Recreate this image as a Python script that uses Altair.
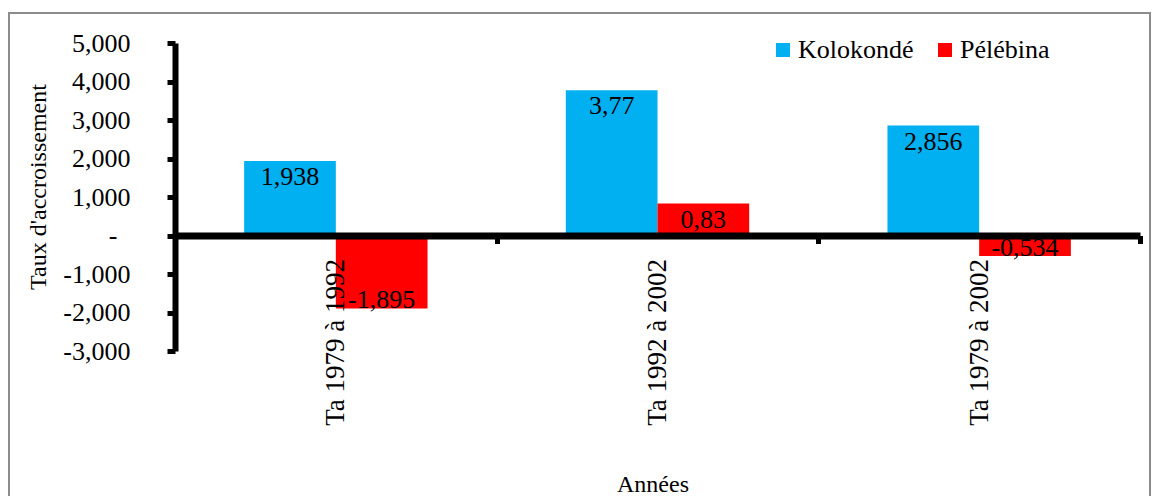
import altair as alt
import pandas as pd

periods = ["Ta 1979 à 1992", "Ta 1992 à 2002", "Ta 1979 à 2002"]
kolokonde = [1.938, 3.77, 2.856]
pelebina = [-1.895, 0.83, -0.534]
series = ["Kolokondé", "Pélébina"]
colors = ["#00B0F0", "#FF0000"]
y_ticks = [-3, -2, -1, 0, 1, 2, 3, 4, 5]

rows = []
for i, p in enumerate(periods):
    rows.append({"period": p, "site": series[0], "value": kolokonde[i]})
    rows.append({"period": p, "site": series[1], "value": pelebina[i]})
df = pd.DataFrame(rows)

W, H = 965, 308
FONT = "Liberation Serif"

x_enc = alt.X(
    "period:N", sort=periods,
    scale=alt.Scale(paddingInner=0, paddingOuter=0),
    axis=alt.Axis(
        title="Années", orient="bottom", offset=-115.5,
        labelAngle=270, labelFont=FONT, labelFontSize=27, labelColor="black",
        labelPadding=15, labelOverlap=False, labelLimit=400,
        tickBand="extent", tickSize=8, tickWidth=5, tickColor="black",
        domainColor="black", domainWidth=7,
        titleFont=FONT, titleFontSize=24, titleFontWeight="normal", titleColor="black",
        titleX=W / 2 - 5, titleY=256, titleBaseline="alphabetic", titleAlign="center",
        zindex=1, grid=False,
    ),
)

y_enc = alt.Y(
    "value:Q",
    scale=alt.Scale(domain=[-3, 5], nice=False, zero=False),
    axis=alt.Axis(
        values=y_ticks, labelOverlap=False, labelSeparation=0, labelBound=False,
        labelExpr="datum.value == 0 ? '-' : (datum.value < 0 ? '-' : '') + replace(format(abs(datum.value), '.3f'), '.', ',')",
        labelFont=FONT, labelFontSize=26, labelColor="black",
        labelPadding={"condition": {"test": "datum.value == 0", "value": 50}, "value": 37},
        tickSize=8, tickWidth=5, tickColor="black",
        domainColor="black", domainWidth=6,
        title="Taux d'accroissement",
        titleFont=FONT, titleFontSize=24, titleFontWeight="normal", titleColor="black",
        titleAngle=270, titleX=-130, titleY=143.5, titleAlign="center", titleBaseline="alphabetic",
        grid=False, zindex=1,
    ),
)

color_enc = alt.Color(
    "site:N", sort=series,
    scale=alt.Scale(domain=series, range=colors),
    legend=alt.Legend(
        title=None, orient="none", legendX=595, legendY=-6, direction="horizontal",
        symbolType="square", symbolSize=196, symbolStrokeWidth=0,
        labelFont=FONT, labelFontSize=26, labelColor="black", labelOffset=2,
        columnPadding=18, padding=0, labelLimit=300,
    ),
)

xoff = alt.XOffset("site:N", sort=series, scale=alt.Scale(paddingInner=0, paddingOuter=0.754))

base = alt.Chart(df).transform_calculate(
    label="replace(toString(datum.value), '.', ',')"
)

bars = base.mark_bar().encode(
    x=x_enc, xOffset=xoff, y=y_enc, y2=alt.datum(0), color=color_enc
)

text_pos = base.transform_filter("datum.value >= 0").mark_text(
    font=FONT, fontSize=26, color="black", baseline="middle", dy=16
).encode(x=x_enc, xOffset=xoff, y=y_enc, text="label:N")

text_neg = base.transform_filter("datum.value < 0").mark_text(
    font=FONT, fontSize=26, color="black", baseline="middle", dy=-8
).encode(x=x_enc, xOffset=xoff, y=y_enc, text="label:N")

frame = alt.Chart(alt.Data(values=[{"a": 1}])).mark_rect(
    fill="transparent", stroke="#8c8c8c", strokeWidth=2
).encode(
    x=alt.value(-166), x2=alt.value(975), y=alt.value(-30), y2=alt.value(600)
)

chart = alt.layer(frame, bars, text_pos, text_neg).properties(
    width=W, height=H,
    autosize=alt.AutoSizeParams(type="none"),
    padding={"left": 167, "top": 35, "right": 12, "bottom": 145},
).configure(
    background="white", font=FONT
).configure_view(
    stroke="transparent", strokeWidth=0
).configure_axis(
    labelFont=FONT, titleFont=FONT, labelOverlap=False
).configure_legend(
    labelFont=FONT, titleFont=FONT
).configure_text(font=FONT)

chart.save("out.html", embed_options={"renderer": "svg", "actions": False})
